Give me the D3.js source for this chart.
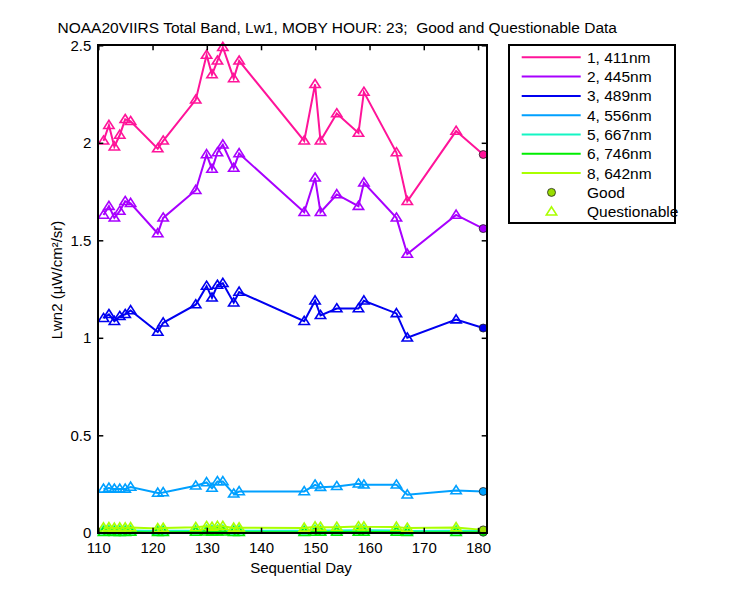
<!DOCTYPE html>
<head>
<meta charset="utf-8">
<style>
body{
  margin:0;
  background-color:white;
}
text{
  font-family: "Liberation Sans", Arial, sans-serif;
  font-size:15px;
  fill:black;
}
.frame{
  fill:none;
  stroke:black;
  stroke-width:2px;
  shape-rendering:crispEdges;
}
.band{
  fill:none;
  stroke-width:2px;
}
</style>
</head>
<body>
<svg width="750" height="600"></svg>
<script src="https://d3js.org/d3.v7.min.js"></script>
<script>

// sequential day (day + 23h)
var days = [110.96,111.96,112.96,113.96,114.96,115.96,120.96,121.96,127.96,129.96,130.96,131.96,132.96,
            134.96,135.96,147.96,149.96,150.96,153.96,157.96,158.96,164.96,166.96,175.96,180.96];
// Q = questionable, G = good
var quality = ["Q","Q","Q","Q","Q","Q","Q","Q","Q","Q","Q","Q","Q","Q","Q","Q","Q","Q","Q","Q","Q","Q","Q","Q","G"];

var lw411 = [2.01,2.09,1.98,2.04,2.12,2.11,1.97,2.01,2.22,2.45,2.35,2.42,2.49,2.33,2.42,2.01,2.30,2.01,2.15,2.05,2.26,1.95,1.70,2.06,1.94];
var lw445 = [1.63,1.675,1.615,1.65,1.70,1.69,1.535,1.615,1.757,1.94,1.865,1.95,1.99,1.87,1.945,1.644,1.82,1.644,1.735,1.675,1.795,1.615,1.43,1.63,1.56];
var lw489 = [1.10,1.12,1.085,1.11,1.12,1.14,1.03,1.077,1.17,1.265,1.205,1.27,1.28,1.18,1.235,1.085,1.19,1.115,1.15,1.15,1.19,1.125,1.00,1.093,1.05];
var lw556 = [0.225,0.23,0.225,0.225,0.225,0.235,0.204,0.207,0.241,0.258,0.229,0.263,0.263,0.20,0.212,0.212,0.246,0.234,0.238,0.251,0.246,0.246,0.195,0.217,0.212];
var lw667 = [0.011,0.012,0.010,0.011,0.011,0.012,0.009,0.010,0.012,0.014,0.012,0.014,0.014,0.010,0.011,0.010,0.013,0.012,0.012,0.013,0.013,0.012,0.009,0.011,0.010];
var lw746 = [0.003,0.004,0.003,0.003,0.003,0.004,0.002,0.003,0.004,0.005,0.004,0.005,0.005,0.003,0.003,0.003,0.004,0.004,0.004,0.004,0.004,0.004,0.002,0.003,0.003];
var lw642 = [0.026,0.027,0.025,0.026,0.026,0.027,0.022,0.024,0.028,0.033,0.029,0.034,0.034,0.025,0.026,0.025,0.031,0.029,0.029,0.032,0.031,0.030,0.024,0.027,0.015];

var bandNames = ["1, 411nm","2, 445nm","3, 489nm","4, 556nm","5, 667nm","6, 746nm","8, 642nm"];
var bandColors = ["#ff1499","#a800ff","#0000f0","#00a0ff","#14f5c4","#00ee00","#aaff00"];
var bandValues = [lw411,lw445,lw489,lw556,lw667,lw746,lw642];

var xTicks = [110,120,130,140,150,160,170,180];
var yTicks = [0,0.5,1,1.5,2,2.5];

var svg = d3.select("svg");

// axes box in pixels
var pL = 98.3, pR = 486.7, pT = 45.3, pB = 532.8;

var x = d3.scaleLinear().domain([110,181.6]).range([pL,pR]);
var y = d3.scaleLinear().domain([0,2.5]).range([pB,pT]);

svg.append("clipPath").attr("id","plotclip")
  .append("rect")
  .attr("x",pL).attr("y",pT)
  .attr("width",pR-pL).attr("height",pB-pT);

var line = d3.line()
  .x(function(d){ return x(d[0]); })
  .y(function(d){ return y(d[1]); });

var tri = d3.symbol().type(d3.symbolTriangle).size(42);

bandValues.forEach(function(vals,i){
  var pts = days.map(function(d,j){ return [d, vals[j], quality[j]]; });
  var g = svg.append("g").attr("class","series");

  g.append("path")
    .datum(pts)
    .attr("class","band")
    .attr("clip-path","url(#plotclip)")
    .attr("stroke",bandColors[i])
    .attr("d",line);

  g.selectAll(".q")
    .data(pts.filter(function(p){ return p[2]=="Q"; }))
    .enter().append("path")
    .attr("class","q")
    .attr("d",tri)
    .attr("transform",function(p){ return "translate("+x(p[0])+","+(y(p[1])+0.5)+") scale(1.05,0.95)"; })
    .attr("fill","none")
    .attr("stroke",bandColors[i])
    .attr("stroke-width",1.6);

  g.selectAll(".g")
    .data(pts.filter(function(p){ return p[2]=="G"; }))
    .enter().append("circle")
    .attr("class","g")
    .attr("cx",function(p){ return x(p[0]); })
    .attr("cy",function(p){ return y(p[1]); })
    .attr("r",4)
    .attr("fill",i==6 ? "#99dd00" : bandColors[i])
    .attr("stroke","#222")
    .attr("stroke-width",0.8);
});

// axes box with inward ticks
var axes = svg.append("g");
axes.append("rect").attr("class","frame")
  .attr("x",pL).attr("y",pT)
  .attr("width",pR-pL).attr("height",pB-pT);

axes.append("g").attr("transform","translate(0,"+pB+")")
  .call(d3.axisBottom(x).tickValues(xTicks).tickSizeInner(-5).tickSizeOuter(0).tickPadding(10));
axes.append("g").attr("transform","translate(0,"+pT+")")
  .call(d3.axisTop(x).tickValues(xTicks).tickSizeInner(-5).tickSizeOuter(0).tickFormat(""));
axes.append("g").attr("transform","translate("+pL+",0)")
  .call(d3.axisLeft(y).tickValues(yTicks).tickSizeInner(-5).tickSizeOuter(0).tickPadding(7).tickFormat(d3.format("")));
axes.append("g").attr("transform","translate("+pR+",0)")
  .call(d3.axisRight(y).tickValues(yTicks).tickSizeInner(-5).tickSizeOuter(0).tickFormat(""));

axes.selectAll(".domain").remove();
axes.selectAll(".tick line").attr("stroke","black").attr("stroke-width",1.5);
axes.selectAll(".tick text")
  .style("font-family","'Liberation Sans', Arial, sans-serif")
  .style("font-size","15px")
  .attr("fill","black");

svg.append("text")
  .attr("x",57.5).attr("y",33)
  .style("font-size","15.5px")
  .style("white-space","pre")
  .text("NOAA20VIIRS Total Band, Lw1, MOBY HOUR: 23;  Good and Questionable Data");

svg.append("text")
  .attr("x",301).attr("y",573)
  .attr("text-anchor","middle")
  .text("Sequential Day");

svg.append("text")
  .attr("transform","translate(62,280) rotate(-90)")
  .attr("text-anchor","middle")
  .text("Lwn2 (\u00b5W/cm\u00b2/sr)");

// legend
var leg = svg.append("g");
leg.append("rect").attr("class","frame")
  .attr("x",509.3).attr("y",45).attr("width",165.7).attr("height",178);

var rowY = d3.scaleLinear().domain([0,8]).range([57.3,211.7]);

bandNames.forEach(function(n,i){
  leg.append("line")
    .attr("x1",521.7).attr("x2",580.7)
    .attr("y1",rowY(i)).attr("y2",rowY(i))
    .attr("stroke",bandColors[i]).attr("stroke-width",2);
  leg.append("text").attr("x",587).attr("y",rowY(i)+5.5).style("font-size","15.5px").text(n);
});

leg.append("circle")
  .attr("cx",551.5).attr("cy",rowY(7)).attr("r",4)
  .attr("fill","#99dd00").attr("stroke","#222").attr("stroke-width",0.8);
leg.append("text").attr("x",587).attr("y",rowY(7)+5.5).style("font-size","15.5px").text("Good");

leg.append("path")
  .attr("d",tri)
  .attr("transform","translate(551.5,"+(rowY(8)+0.5)+") scale(1.05,0.95)")
  .attr("fill","none").attr("stroke","#aaff00").attr("stroke-width",1.6);
leg.append("text").attr("x",587).attr("y",rowY(8)+5.5).style("font-size","15.5px").text("Questionable");

</script>
</body>
